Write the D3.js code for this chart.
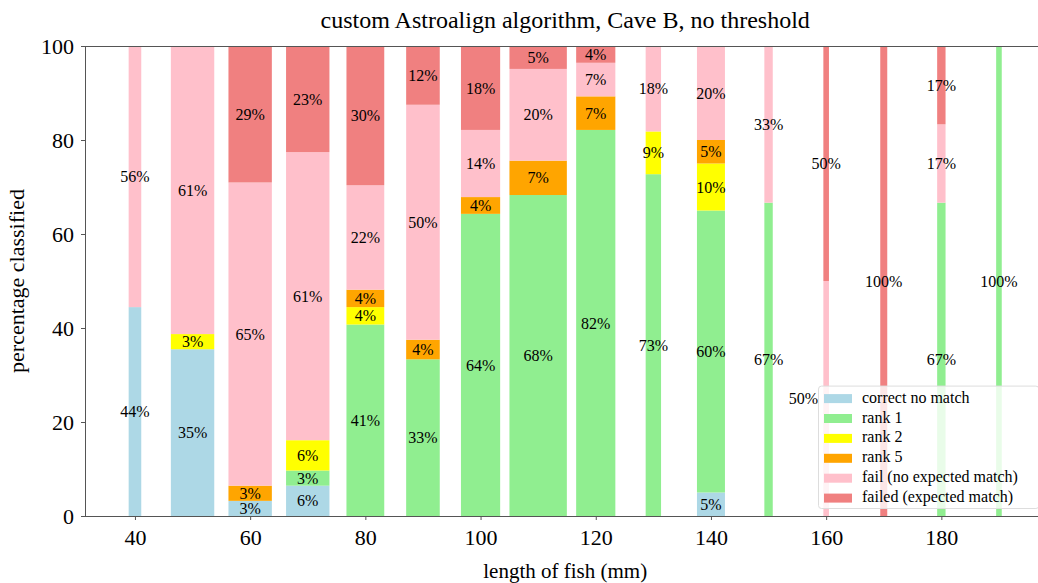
<!DOCTYPE html>
<html><head><meta charset="utf-8">
<script src="https://cdn.jsdelivr.net/npm/d3@7"></script>
<style>body{margin:0;background:#fff}svg{display:block}text{font-family:"Liberation Serif","Times New Roman",serif}</style>
</head><body><svg id="c" width="1038" height="583"></svg>
<script>
// ---- data (fish counts per length class) ----
const lengths = [40,50,60,70,80,90,100,110,120,130,140,150,160,170,180,190];
const correctNoMatch   = [4,11,1,2,0,0,0,0,0,0,1,0,0,0,0,0];
const rank1            = [0,0,0,1,11,8,18,28,23,8,12,4,0,0,4,4];
const rank2            = [0,1,0,2,1,0,0,0,0,1,2,0,0,0,0,0];
const rank5            = [0,0,1,0,1,1,1,3,2,0,1,0,0,0,0,0];
const failNoExpected   = [5,19,20,19,6,12,4,8,2,2,4,2,2,0,1,0];
const failedExpected   = [0,0,9,7,8,3,5,2,1,0,0,0,2,5,1,0];
const seriesNames = ["correct no match","rank 1","rank 2","rank 5","fail (no expected match)","failed (expected match)"];
const seriesColors = ["#ADD8E6","#90EE90","#FFFF00","#FFA500","#FFC0CB","#F08080"];
const yTicks = [0,20,40,60,80,100];
const xTicks = [40,60,80,100,120,140,160,180];
const chartTitle = "custom Astroalign algorithm, Cave B, no threshold";
const xLabel = "length of fish (mm)";
const yLabel = "percentage classified";

(function(){
const keys = ["cnm","r1","r2","r5","fne","fe"];
const seriesArrays = [correctNoMatch, rank1, rank2, rank5, failNoExpected, failedExpected];
const table = lengths.map((L,i)=>{
  const o = {length:L};
  keys.forEach((k,j)=>o[k]=seriesArrays[j][i]);
  o.total = d3.sum(seriesArrays, a=>a[i]);
  return o;
});
const stacked = d3.stack().keys(keys).offset(d3.stackOffsetExpand)(table);

const widthPerFish = 0.243; // mm of bar width per fish
const bw = d => d.total*widthPerFish;

const mLeft=85, mTop=46, mBottom=516;
const xmin = d3.min(table, d=>d.length - bw(d)/2), xmax = d3.max(table, d=>d.length + bw(d)/2);
const pad = (xmax-xmin)*0.05;
const x = d3.scaleLinear().domain([xmin-pad, xmax+pad]);
const pxPerMm = 5.76;
x.range([mLeft, mLeft + (xmax-xmin+2*pad)*pxPerMm]);
const mRight = x.range()[1];
const y = d3.scaleLinear().domain([0,1]).range([mBottom, mTop]);

const svg = d3.select("#c");

const g = svg.append("g");
stacked.forEach((s,si)=>{
  g.selectAll(null).data(s).enter().append("rect")
    .attr("x", d=>x(d.data.length - bw(d.data)/2))
    .attr("width", d=>x(d.data.length + bw(d.data)/2) - x(d.data.length - bw(d.data)/2))
    .attr("y", d=>y(d[1]))
    .attr("height", d=>y(d[0]) - y(d[1]))
    .attr("fill", seriesColors[si]);
});

const sp = svg.append("g").attr("stroke","#555").attr("stroke-width",1).attr("fill","none");
sp.append("rect").attr("x",mLeft+0.5).attr("y",mTop+0.5).attr("width",mRight-mLeft).attr("height",mBottom-mTop);

const xAxis = svg.append("g").attr("transform",`translate(0,${mBottom})`)
  .call(d3.axisBottom(x).tickValues(xTicks).tickSize(4).tickPadding(9).tickFormat(d3.format("d")));
const yAxis = svg.append("g").attr("transform",`translate(${mLeft},0)`)
  .call(d3.axisLeft(y).tickValues(yTicks.map(v=>v/100)).tickSize(4).tickPadding(7).tickFormat(d=>Math.round(d*100)));
[xAxis,yAxis].forEach(a=>{
  a.select(".domain").remove();
  a.selectAll(".tick line").attr("stroke","#555");
  a.selectAll(".tick text").attr("font-size",22).attr("fill","#000").style("font-family","Liberation Serif");
});

svg.append("text").attr("x",(mLeft+mRight)/2).attr("y",28).attr("text-anchor","middle").attr("font-size",24).text(chartTitle);
svg.append("text").attr("x",(mLeft+mRight)/2).attr("y",578).attr("text-anchor","middle").attr("font-size",21).text(xLabel);
svg.append("text").attr("transform",`translate(24,${(mTop+mBottom)/2}) rotate(-90)`).attr("text-anchor","middle").attr("font-size",22).text(yLabel);

const legFont = 16, rowH = 19.9, legPad = 6;
const legH = seriesNames.length*rowH + 3;
const legBox = {x:818, y:mBottom-8-legH, w:(mRight-7)-818, h:legH};

function roundHalfEven(v){
  const f=Math.floor(v), diff=v-f;
  if (Math.abs(diff-0.5)<1e-9) return (f%2===0)?f:f+1;
  return Math.round(v);
}
const lab = svg.append("g").attr("font-size",16).attr("text-anchor","middle");
stacked.forEach(s=>{
  s.forEach(d=>{
    if (d[1]-d[0] <= 0) return;
    const t = lab.append("text")
      .attr("x", x(d.data.length))
      .attr("y", y((d[0]+d[1])/2))
      .attr("dy","0.35em")
      .text(roundHalfEven((d[1]-d[0])*100)+"%");
    const bb = t.node().getBBox();
    if (bb.x+bb.width > legBox.x && bb.x < legBox.x+legBox.w && bb.y+bb.height > legBox.y && bb.y < legBox.y+legBox.h) {
      t.attr("x", legBox.x - bb.width/2);
    }
  });
});

const leg = svg.append("g");
leg.append("rect").attr("x",legBox.x+0.5).attr("y",legBox.y+0.5).attr("width",legBox.w).attr("height",legBox.h)
  .attr("rx",3).attr("fill","#fff").attr("fill-opacity",0.8).attr("stroke","#ddd").attr("stroke-width",1);
seriesNames.forEach((n,i)=>{
  const cy = legBox.y + 13 + i*rowH;
  leg.append("rect").attr("x",legBox.x+legPad).attr("y",cy-4.5).attr("width",28).attr("height",9).attr("fill",seriesColors[i]);
  leg.append("text").attr("x",legBox.x+44).attr("y",cy).attr("dy","0.25em").attr("font-size",legFont).text(n);
});
})();
</script></body></html>
